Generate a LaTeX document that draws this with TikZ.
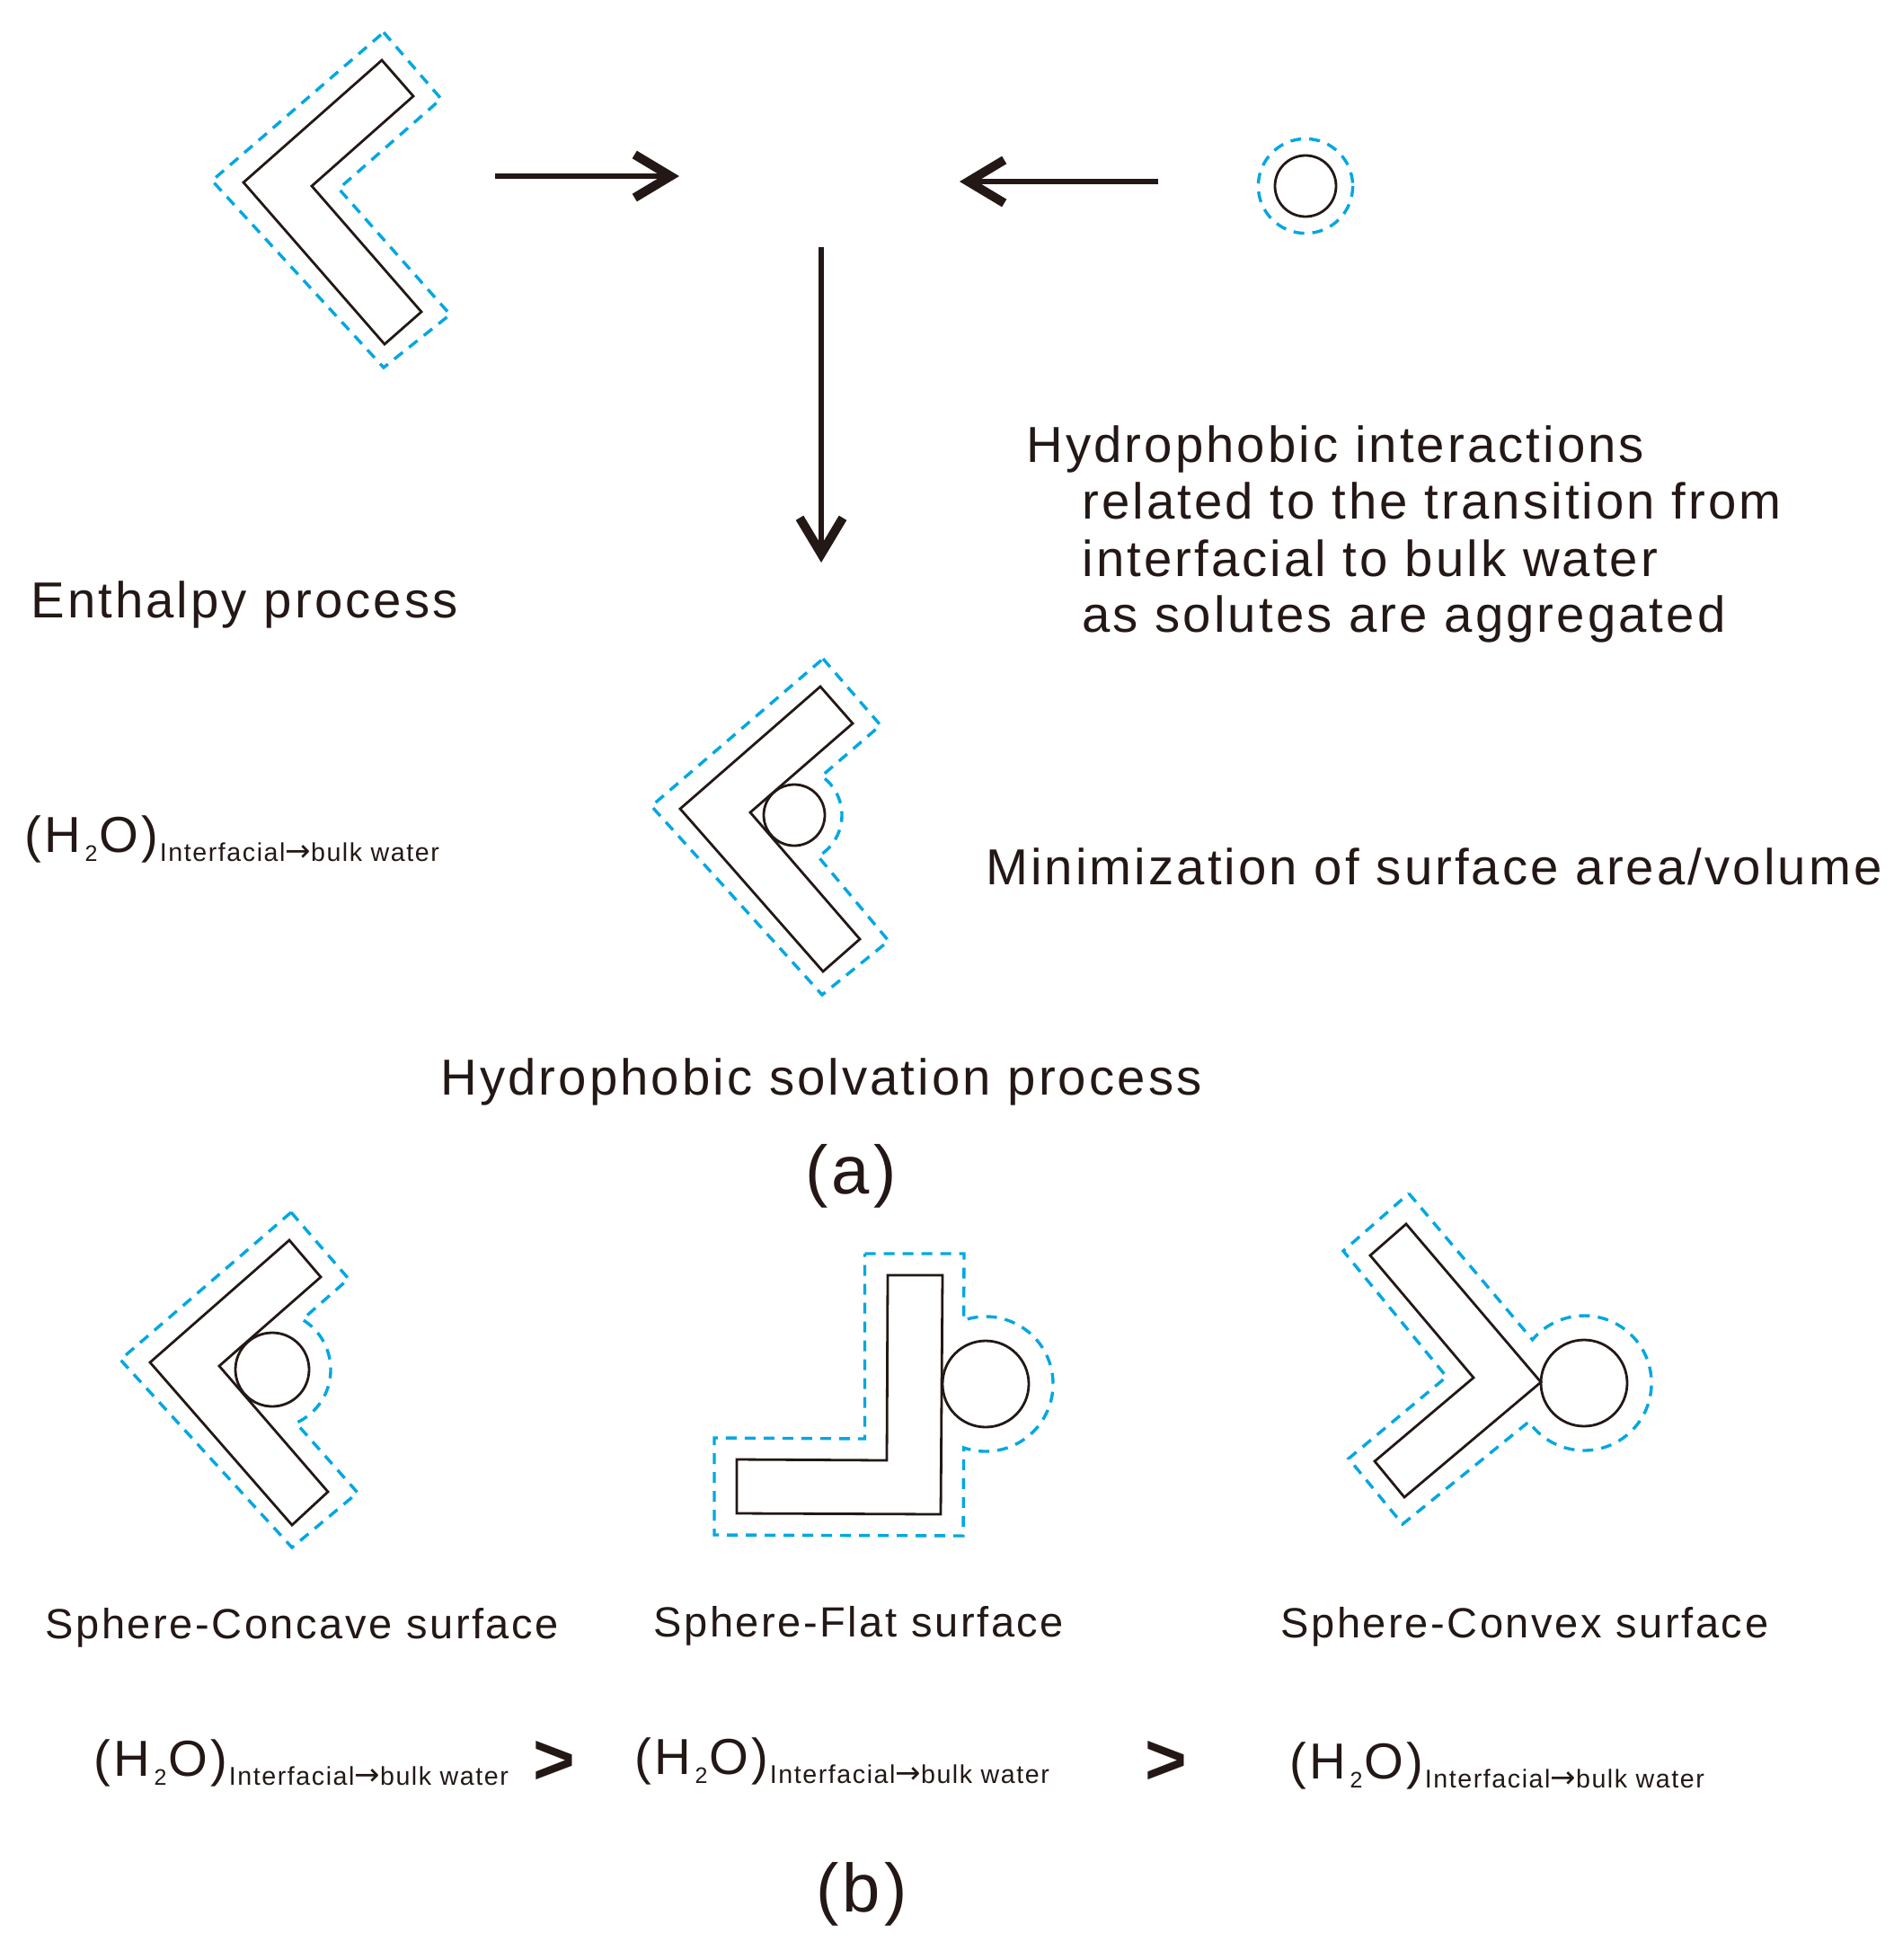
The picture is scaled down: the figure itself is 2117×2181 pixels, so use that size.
\documentclass[tikz,border=0pt]{standalone}
\usepackage{fontspec}
\setmainfont[LetterSpace=5.5]{Liberation Sans}
\newfontfamily\arrowfont{DejaVu Sans}
\usetikzlibrary{arrows.meta}
\definecolor{inkblack}{RGB}{35,24,21}
\definecolor{waterblue}{RGB}{0,167,225}
\tikzstyle{body} = [draw=inkblack, line width=1.4pt, line join=miter]
\tikzstyle{shell} = [draw=waterblue, line width=1.7pt, dash pattern=on 6pt off 4.5pt]
\tikzstyle{arrow} = [draw=inkblack, line width=3pt, -{Straight Barb[length=20pt,width=24pt,line width=5pt]}]
\tikzstyle{bigtext} = [anchor=base west, inner sep=0pt, text=inkblack, font=\fontsize{28.15}{34}\selectfont]
\tikzstyle{midtext} = [anchor=base west, inner sep=0pt, text=inkblack, font=\fontsize{23.5}{29}\selectfont]
\tikzstyle{tag} = [anchor=base, inner sep=0pt, text=inkblack, font=\fontsize{38}{46}\selectfont]
\tikzstyle{gt} = [inner sep=0pt, text=inkblack, font=\fontsize{40}{48}\selectfont\bfseries]
\newcommand{\waterflow}{(H\kern2.3pt\raisebox{-5pt}{\fontsize{12.5}{15}\selectfont 2}\kern1.2pt O)\kern0.7pt\raisebox{-5pt}{\fontsize{14.3}{17}\selectfont Interfacial{\arrowfont\fontsize{17}{17}\selectfont →}bulk water}}

\begin{document}
\begin{tikzpicture}[x=0.5pt, y=-0.5pt]
 	\useasboundingbox (0,0) rectangle (2117,2181);
 	
 	% top row
 	\draw [shell] (427,36) -- (491,110) -- (377,210) -- (501,350) -- (427,409) -- (236,201) -- cycle;
 	\draw [body] (425,67) -- (460,107) -- (347,207) -- (469,347) -- (428,383) -- (271,203) -- cycle;
 	
 	\draw [shell] (1453,207) circle (52.6);
 	\draw [body] (1453,207) circle (34);
 	
 	\node [coordinate] at (551,196) (a1) {};
 	\node [coordinate] at (756,196) (a2) {};
 	\node [coordinate] at (1289,202) (b1) {};
 	\node [coordinate] at (1068,202) (b2) {};
 	\node [coordinate] at (914,275) (c1) {};
 	\node [coordinate] at (914,626) (c2) {};
 	
 	\draw [arrow] (a1) -- (a2);
 	\draw [arrow] (b1) -- (b2);
 	\draw [arrow] (c1) -- (c2);
 	
 	% texts of (a)
 	\node [bigtext] at (1142,514) (hi1) {Hydrophobic interactions};
 	\node [bigtext] at (1204,577) (hi2) {related to the transition from};
 	\node [bigtext] at (1204,641) (hi3) {interfacial to bulk water};
 	\node [bigtext] at (1204,703) (hi4) {as solutes are aggregated};
 	\node [bigtext] at (34,687) (ep) {Enthalpy process};
 	\node [bigtext] at (27,948) (wa) {\waterflow};
 	\node [bigtext] at (1097,984) (ms) {Minimization of surface area/volume};
 	\node [bigtext] at (490,1218) (hs) {Hydrophobic solvation process};
 	\node [tag] at (947,1328) (ta) {(a)};
 	
 	% chevron with sphere
 	\draw [shell] (916,733) -- (980,807) -- (914.4,863.6) arc[start angle=-55, end angle=60, radius=53] -- (989,1047) -- (915,1107) -- (725,897) -- cycle;
 	\draw [body] (913,764) -- (949,805) -- (835,904) -- (957,1045) -- (916,1081) -- (757,900) -- cycle;
 	\draw [body] (884,907) circle (34);
 	
 	% row of (b)
 	\draw [shell] (324,1349) -- (388,1423) -- (336.5,1468.3) arc[start angle=-59, end angle=66, radius=65] -- (398,1661) -- (325,1722) -- (134,1513) -- cycle;
 	\draw [body] (322,1380) -- (357,1421) -- (244,1520) -- (365,1660) -- (325,1697) -- (167,1516) -- cycle;
 	\draw [body] (303,1524) circle (41);
 	
 	\draw [shell] (962.5,1395) -- (1073,1395) -- (1072.6,1469.1) arc[start angle=-109, end angle=109, radius=75] -- (1072,1709) -- (795,1708) -- (795,1600) -- (962.5,1601) -- cycle;
 	\draw [body] (988,1419) -- (1049,1419) -- (1047,1685) -- (820,1684) -- (820,1624) -- (987,1625) -- cycle;
 	\draw [body] (1097,1540) circle (48);
 	
 	\draw [shell] (1568,1328) -- (1705.6,1490.8) arc[start angle=-140, end angle=145, radius=75] -- (1561,1696) -- (1501,1623) -- (1610,1532) -- (1495,1392) -- cycle;
 	\draw [body] (1565,1362) -- (1715,1538) -- (1563,1666) -- (1530,1626) -- (1640,1533) -- (1525,1397) -- cycle;
 	\draw [body] (1763,1539) circle (48);
 	
 	% texts of (b)
 	\node [midtext] at (50,1823) (sc) {Sphere-Concave surface};
 	\node [midtext] at (727,1821) (sf) {Sphere-Flat surface};
 	\node [midtext] at (1425,1822) (sv) {Sphere-Convex surface};
 	
 	\node [bigtext] at (104,1976) (w1) {\waterflow};
 	\node [bigtext] at (706,1974) (w2) {\waterflow};
 	\node [bigtext] at (1435,1979) (w3) {\waterflow};
 	\node [gt] at (617,1961) (g1) {>};
 	\node [gt] at (1298,1961) (g2) {>};
 	
 	\node [tag] at (959,2127) (tb) {(b)};
 	
\end{tikzpicture}
\end{document}
